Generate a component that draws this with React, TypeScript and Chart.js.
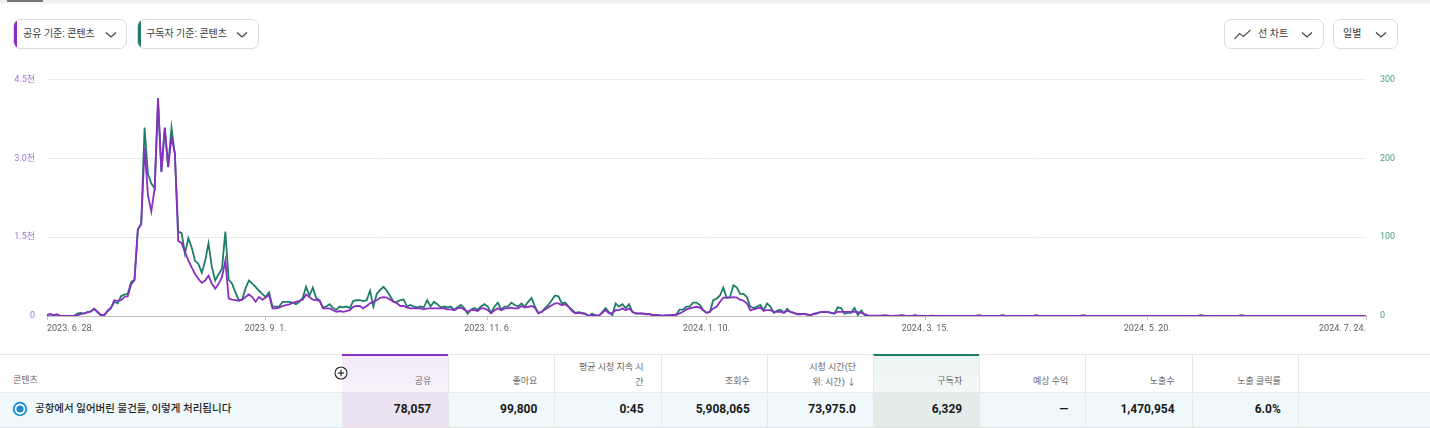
import React, { useEffect, useRef } from "react";
import { Chart, registerables } from "chart.js";
Chart.register(...registerables);

// ---------------- DATA ----------------
// Daily shares (공유), 2023-06-28 .. 2024-07-24
const SHARES: number[] = [
  19, 37, 19, 31, 0, 0, 0, 0, 0, 12,
  37, 50, 69, 81, 137, 81, 19, 19, 100, 156,
  300, 287, 300, 362, 375, 600, 680, 1644, 1744, 3200,
  2300, 1990, 2430, 4145, 2740, 3580, 2830, 3390, 3100, 1425,
  1390, 1220, 1060, 925, 800, 705, 630, 675, 769, 612,
  519, 612, 737, 1050, 331, 312, 300, 287, 312, 360,
  410, 360, 270, 360, 310, 350, 405, 145, 145, 160,
  190, 205, 220, 250, 270, 290, 310, 410, 360, 310,
  300, 290, 145, 145, 145, 110, 80, 95, 80, 95,
  110, 175, 190, 190, 145, 190, 240, 270, 300, 345,
  360, 350, 310, 270, 240, 190, 190, 160, 145, 145,
  145, 145, 125, 145, 145, 145, 145, 145, 145, 125,
  125, 110, 145, 160, 125, 80, 110, 110, 95, 145,
  145, 110, 50, 110, 145, 110, 145, 145, 160, 145,
  145, 190, 160, 175, 190, 160, 50, 80, 125, 160,
  205, 240, 240, 205, 225, 175, 100, 50, 60, 50,
  38, 0, 20, 12, 5, 60, 110, 50, 60, 110,
  110, 145, 110, 145, 80, 50, 50, 50, 38, 38,
  20, 20, 12, 5, 8, 12, 20, 20, 50, 80,
  125, 145, 160, 175, 160, 110, 60, 80, 145, 175,
  270, 350, 350, 350, 360, 350, 310, 290, 240, 110,
  125, 145, 160, 100, 110, 110, 80, 80, 80, 60,
  100, 80, 60, 38, 38, 38, 20, 20, 38, 50,
  80, 80, 80, 60, 50, 80, 80, 80, 80, 80,
  80, 75, 60, 38, 12, 5, 5, 8, 8, 8,
  5, 3, 5, 8, 12, 5, 3, 2, 5, 3,
  5, 3, 2, 5, 3, 2, 2, 3, 2, 2,
  2, 3, 2, 2, 3, 2, 3, 7, 3, 2,
  2, 3, 2, 3, 7, 2, 2, 3, 2, 2,
  2, 2, 3, 2, 7, 3, 2, 2, 2, 1,
  2, 1, 2, 2, 1, 2, 2, 1, 6, 2,
  1, 1, 2, 1, 1, 2, 1, 1, 1, 2,
  1, 1, 1, 2, 1, 1, 1, 1, 2, 1,
  1, 1, 1, 1, 2, 1, 1, 1, 1, 1,
  1, 2, 1, 5, 1, 1, 1, 1, 1, 2,
  1, 1, 1, 1, 1, 5, 1, 1, 1, 1,
  1, 0, 1, 1, 0, 1, 1, 0, 1, 1,
  0, 1, 1, 0, 1, 0, 1, 1, 0, 1,
  1, 0, 1, 0, 1, 1, 0, 1, 0, 1,
  1, 0, 1,
];

// Daily subscribers (구독자)
const SUBSCRIBERS: number[] = [
  1, 2, 1, 2, 0, 0, 0, 0, 0, 3,
  4, 3, 5, 6, 9, 5, 1, 1, 6, 10,
  18, 16, 25, 27, 28, 43, 46, 110, 117, 239,
  180, 168, 162, 272, 183, 239, 189, 239, 205, 107,
  105, 79, 99, 87, 70, 66, 55, 70, 92, 62,
  45, 53, 60, 107, 46, 41, 30, 20, 21, 35,
  45, 41, 37, 32, 28, 24, 30, 12, 12, 12,
  18, 18, 18, 17, 15, 18, 23, 37, 26, 36,
  23, 20, 11, 12, 15, 10, 8, 12, 11, 12,
  10, 19, 20, 20, 19, 20, 32, 12, 28, 33,
  37, 32, 25, 18, 18, 20, 21, 12, 14, 12,
  11, 12, 11, 20, 12, 18, 15, 11, 12, 11,
  12, 8, 11, 14, 10, 3, 8, 10, 8, 12,
  15, 12, 4, 12, 17, 8, 12, 12, 17, 14,
  12, 16, 12, 18, 23, 12, 4, 5, 10, 14,
  20, 26, 25, 16, 17, 12, 8, 4, 5, 4,
  3, 0, 3, 1, 0, 5, 10, 5, 1, 16,
  12, 15, 10, 15, 5, 3, 3, 3, 2, 2,
  1, 1, 1, 0, 1, 1, 1, 2, 8, 8,
  12, 12, 17, 17, 14, 8, 4, 5, 20, 22,
  26, 36, 23, 24, 39, 36, 28, 28, 24, 12,
  10, 12, 14, 7, 16, 12, 4, 7, 8, 4,
  9, 5, 4, 2, 2, 3, 2, 1, 3, 4,
  5, 5, 5, 4, 3, 11, 10, 3, 4, 4,
  10, 1, 7, 1, 0, 0, 0, 0, 0, 1,
  0, 0, 0, 0, 1, 0, 0, 0, 1, 0,
  0, 0, 0, 0, 0, 0, 0, 0, 0, 0,
  0, 0, 0, 0, 0, 0, 0, 1, 0, 0,
  0, 0, 0, 0, 1, 0, 0, 0, 0, 0,
  0, 0, 0, 0, 1, 0, 0, 0, 0, 0,
  0, 0, 0, 0, 0, 0, 0, 0, 1, 0,
  0, 0, 0, 0, 0, 0, 0, 0, 0, 0,
  0, 0, 0, 0, 0, 0, 0, 0, 0, 0,
  0, 0, 0, 0, 0, 0, 0, 0, 0, 0,
  0, 0, 0, 1, 0, 0, 0, 0, 0, 0,
  0, 0, 0, 0, 0, 1, 0, 0, 0, 0,
  0, 0, 0, 0, 0, 0, 0, 0, 0, 0,
  0, 0, 0, 0, 0, 0, 0, 0, 0, 0,
  0, 0, 0, 0, 0, 0, 0, 0, 0, 0,
  0, 0, 0,
];

// Category labels: one per day starting 2023-06-28
const START_DATE = [2023, 6, 28];
const DATES: string[] = SHARES.map((_, i) => {
  const d = new Date(Date.UTC(START_DATE[0], START_DATE[1] - 1, START_DATE[2] + i));
  return `${d.getUTCFullYear()}. ${d.getUTCMonth() + 1}. ${d.getUTCDate()}.`;
});

const TICK_LABELS = ["2023. 6. 28.", "2023. 9. 1.", "2023. 11. 6.", "2024. 1. 10.", "2024. 3. 15.", "2024. 5. 20.", "2024. 7. 24."];
const LEFT_TICKS = [0, 1500, 3000, 4500];
const RIGHT_TICKS = [0, 100, 200, 300];

const CONTENT_TITLE = "공항에서 잃어버린 물건들, 이렇게 처리됩니다";
const METRIC_HEADERS: string[][] = [
  ["공유"], ["좋아요"], ["평균 시청 지속 시", "간"], ["조회수"], ["시청 시간(단", "위: 시간) ↓"],
  ["구독자"], ["예상 수익"], ["노출수"], ["노출 클릭률"],
];
const METRIC_VALUES: string[] = ["78,057", "99,800", "0:45", "5,908,065", "73,975.0", "6,329", "—", "1,470,954", "6.0%"];

// ---------------- STYLE ----------------
const FONT = "Roboto, 'Noto Sans CJK KR', 'Noto Sans', sans-serif";
const PURPLE = "#8a2fc4";
const GREEN = "#1f7c68";
const PURPLE_TXT = "#a273d4";
const GREEN_TXT = "#4a9e8a";

function Chevron({ x, y }: { x: number; y: number }) {
  return (
    <svg style={{ position: "absolute", left: x, top: y }} width={12} height={8} viewBox="0 0 12 8">
      <polyline points="1,1.5 6,6 11,1.5" fill="none" stroke="#444" strokeWidth={1.3} />
    </svg>
  );
}

function Dropdown(props: { left: number; width: number; text: string; accent?: string; textX: number; chevX: number; icon?: boolean }) {
  const { left, width, text, accent, textX, chevX, icon } = props;
  return (
    <div
      style={{
        position: "absolute", left, top: 19, width, height: 30, boxSizing: "border-box",
        border: "1px solid #dcdcdc", borderRadius: 7, overflow: "hidden", background: "#fff",
      }}
    >
      {accent && <div style={{ position: "absolute", left: 0, top: 0, width: 3, height: "100%", background: accent }} />}
      {icon && (
        <svg style={{ position: "absolute", left: 9, top: 9 }} width={17} height={11} viewBox="0 0 17 11">
          <polyline points="0.5,10 5.5,4.5 9.5,7.5 16.5,1" fill="none" stroke="#555" strokeWidth={1.2} />
        </svg>
      )}
      <div style={{ position: "absolute", left: textX, top: 0, lineHeight: "28px", fontSize: 10, color: "#3c3c3c", fontFamily: FONT, whiteSpace: "nowrap" }}>{text}</div>
      <Chevron x={chevX} y={11} />
    </div>
  );
}

function LineChart() {
  const ref = useRef<HTMLCanvasElement>(null);
  useEffect(() => {
    if (!ref.current) return;
    const chart = new Chart(ref.current, {
      type: "line",
      data: {
        labels: DATES,
        datasets: [
          { label: "공유", data: SHARES, borderColor: PURPLE, backgroundColor: PURPLE, borderWidth: 1.8, pointRadius: 0, tension: 0, yAxisID: "yL" },
          { label: "구독자", data: SUBSCRIBERS, borderColor: GREEN, backgroundColor: GREEN, borderWidth: 1.8, pointRadius: 0, tension: 0, yAxisID: "yR" },
        ],
      },
      options: {
        animation: false,
        responsive: false,
        devicePixelRatio: 1,
        layout: { padding: { top: 16, left: 0, right: 0, bottom: 0 } },
        plugins: { legend: { display: false }, tooltip: { enabled: false } },
        scales: {
          x: {
            type: "category",
            offset: false,
            grid: { drawOnChartArea: false, drawTicks: true, tickLength: 4, color: "#c4c4c4" },
            border: { display: true, color: "#bdbdbd", width: 1 },
            ticks: {
              autoSkip: false, maxRotation: 0, minRotation: 0, align: "inner", padding: 3,
              color: "#5f5f5f", font: { size: 9, family: FONT },
              callback: (v: any) => DATES[v as number],
            },
            afterBuildTicks: (s: any) => {
              s.ticks = s.ticks.filter((t: any) => TICK_LABELS.includes(DATES[t.value]));
            },
            afterFit: (s: any) => { s.height = 24; },
          },
          yL: {
            position: "left", min: 0, max: 4500,
            afterBuildTicks: (s: any) => { s.ticks = LEFT_TICKS.map((v) => ({ value: v })); },
            ticks: {
              padding: 12, color: PURPLE_TXT, font: { size: 9, family: FONT },
              callback: (v: any) => (v === 0 ? "0" : (v / 1000).toFixed(1) + "천"),
            },
            grid: { color: "#ebebeb", drawTicks: false },
            border: { display: false },
            afterFit: (s: any) => { s.width = 47; },
          },
          yR: {
            position: "right", min: 0, max: 300,
            afterBuildTicks: (s: any) => { s.ticks = RIGHT_TICKS.map((v) => ({ value: v })); },
            ticks: { padding: 14, color: GREEN_TXT, font: { size: 9, family: FONT } },
            grid: { drawOnChartArea: false, drawTicks: false },
            border: { display: false },
            afterFit: (s: any) => { s.width = 64; },
          },
        },
      } as any,
    });
    return () => chart.destroy();
  }, []);
  return <canvas ref={ref} width={1430} height={280} style={{ position: "absolute", left: 0, top: 60, width: 1430, height: 280 }} />;
}

function Table() {
  const colX0 = 342;
  const colW = 106.2;
  const headTop = 355;
  const rowTop = 392;
  const rowBottom = 427;
  return (
    <>
      <div style={{ position: "absolute", left: 0, top: headTop - 1, width: 1430, height: 1, background: "#e6e6e6" }} />
      <div style={{ position: "absolute", left: 0, top: rowTop, width: 1430, height: rowBottom - rowTop, background: "#eff8fa" }} />
      <div style={{ position: "absolute", left: 0, top: rowTop, width: 1430, height: 1, background: "#e4e9ea" }} />
      <div style={{ position: "absolute", left: 0, top: rowBottom, width: 1430, height: 1, background: "#e2e2e2" }} />
      {/* highlighted columns */}
      <div style={{ position: "absolute", left: colX0, top: headTop, width: colW, height: rowTop - headTop, background: "linear-gradient(#f3e9f8, #f8f3fb)" }} />
      <div style={{ position: "absolute", left: colX0, top: rowTop, width: colW, height: rowBottom - rowTop, background: "#ebe3f1" }} />
      <div style={{ position: "absolute", left: colX0, top: headTop - 1, width: colW, height: 2, background: PURPLE }} />
      <div style={{ position: "absolute", left: colX0 + colW * 5, top: headTop, width: colW, height: rowTop - headTop, background: "linear-gradient(#ebf4f2, #f3f8f7)" }} />
      <div style={{ position: "absolute", left: colX0 + colW * 5, top: rowTop, width: colW, height: rowBottom - rowTop, background: "#e2edea" }} />
      <div style={{ position: "absolute", left: colX0 + colW * 5, top: headTop - 1, width: colW, height: 2, background: GREEN }} />
      {/* column dividers */}
      {METRIC_HEADERS.map((_, i) => (
        <div key={"d" + i} style={{ position: "absolute", left: Math.round(colX0 + colW * (i + 1)), top: headTop, width: 1, height: rowBottom - headTop, background: "#e8e8e8" }} />
      ))}
      {/* header texts */}
      <div style={{ position: "absolute", left: 13, top: 374, fontSize: 9, color: "#666", fontFamily: FONT, lineHeight: "12px" }}>콘텐츠</div>
      <svg style={{ position: "absolute", left: 334, top: 366 }} width={14} height={14} viewBox="0 0 14 14">
        <circle cx={7} cy={7} r={6} fill="#fff" stroke="#222" strokeWidth={1.1} />
        <line x1={3.8} y1={7} x2={10.2} y2={7} stroke="#222" strokeWidth={1.2} />
        <line x1={7} y1={3.8} x2={7} y2={10.2} stroke="#222" strokeWidth={1.2} />
      </svg>
      {METRIC_HEADERS.map((lines, i) => {
        const right = colX0 + colW * (i + 1) - 17;
        const top = lines.length === 1 ? 374 : 360;
        return (
          <div key={"h" + i} style={{ position: "absolute", left: right - 100, width: 100, top, textAlign: "right", fontSize: 9, color: "#666", fontFamily: FONT, lineHeight: "15px", whiteSpace: "nowrap" }}>
            {lines.map((l, j) => <div key={j}>{l}</div>)}
          </div>
        );
      })}
      {/* data row */}
      <svg style={{ position: "absolute", left: 12, top: 401 }} width={16} height={16} viewBox="0 0 16 16">
        <circle cx={8} cy={8} r={6.3} fill="#fff" stroke="#1a8ad6" strokeWidth={1.8} />
        <circle cx={8} cy={8} r={3.6} fill="#1a8ad6" />
      </svg>
      <div style={{ position: "absolute", left: 35, top: 401, fontSize: 10.5, fontWeight: 500, color: "#1f1f1f", fontFamily: FONT, lineHeight: "16px", whiteSpace: "nowrap" }}>{CONTENT_TITLE}</div>
      {METRIC_VALUES.map((v, i) => {
        const right = colX0 + colW * (i + 1) - 17;
        return (
          <div key={"v" + i} style={{ position: "absolute", left: right - 100, width: 100, top: 401, textAlign: "right", fontSize: 12, fontWeight: 700, color: "#1a1a1a", fontFamily: FONT, lineHeight: "16px" }}>{v}</div>
        );
      })}
    </>
  );
}

export default function App() {
  return (
    <div style={{ position: "absolute", left: 0, top: 0, width: 1430, height: 428, background: "#fff", overflow: "hidden", fontFamily: FONT }}>
      <div style={{ position: "absolute", left: 0, top: 0, width: 1430, height: 4, background: "linear-gradient(#ececec, #f7f7f7)" }} />
      <div style={{ position: "absolute", left: 7, top: 0, width: 36, height: 1.5, background: "#777" }} />
      <Dropdown left={13} width={114} text="공유 기준: 콘텐츠" accent={PURPLE} textX={9} chevX={91} />
      <Dropdown left={137} width={122} text="구독자 기준: 콘텐츠" accent={GREEN} textX={8} chevX={98} />
      <Dropdown left={1224} width={100} text="선 차트" icon textX={33} chevX={76} />
      <Dropdown left={1333} width={65} text="일별" textX={9} chevX={41} />
      <LineChart />
      <Table />
    </div>
  );
}
